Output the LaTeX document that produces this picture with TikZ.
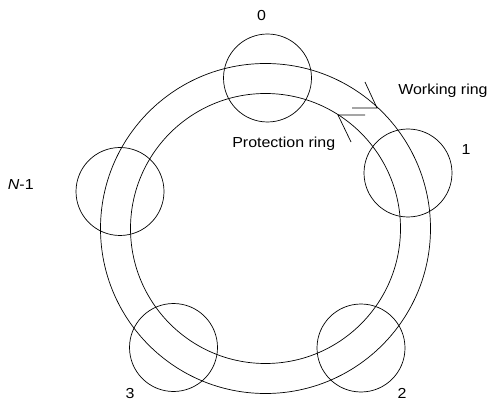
\documentclass[tikz,border=0pt]{standalone}
\usepackage{fontspec}
\setmainfont{Liberation Sans}[FakeStretch=1.1]
\begin{document}
\begin{tikzpicture}[x=1pt,y=-1pt,
  line width=0.7pt,
  ring/.style={circle,draw,inner sep=0pt},
  site/.style={circle,draw,inner sep=0pt,minimum size=88pt},
  lbl/.style={inner sep=0pt,font=\fontsize{14.5}{17}\selectfont}]
\useasboundingbox (0,0) rectangle (490,406);
\node[ring,minimum size=330pt] (outer) at (265.5,228.5) {};
\node[ring,minimum size=270pt] (inner) at (265.5,228.5) {};
\node[site] (n0) at (267.5,78) {};
\node[site] (n1) at (408,173) {};
\node[site] (nN) at (120,191.5) {};
\node[site] (n2) at (361,348) {};
\node[site] (n3) at (173.5,347.5) {};
% arrowheads
\coordinate (wt) at (377,108);
\coordinate (wa) at (352,108);
\coordinate (wb) at (365,82);
\draw (wa) -- (wt) -- (wb);
\coordinate (pt) at (338,115);
\coordinate (pa) at (365,115);
\coordinate (pb) at (351,142);
\draw (pa) -- (pt) -- (pb);
% labels
\node[lbl,anchor=base] (l0) at (261.5,21) {0};
\node[lbl,anchor=base] (l1) at (466,155) {1};
\node[lbl,anchor=base] (l2) at (402,398) {2};
\node[lbl,anchor=base] (l3) at (130,398) {3};
\node[lbl,anchor=base east] (lN) at (34,190) {\textit{N}-1};
\node[lbl,anchor=base west] (lw) at (398,95) {Working ring};
\node[lbl,anchor=base west] (lp) at (232,148) {Protection ring};
\end{tikzpicture}
\end{document}
